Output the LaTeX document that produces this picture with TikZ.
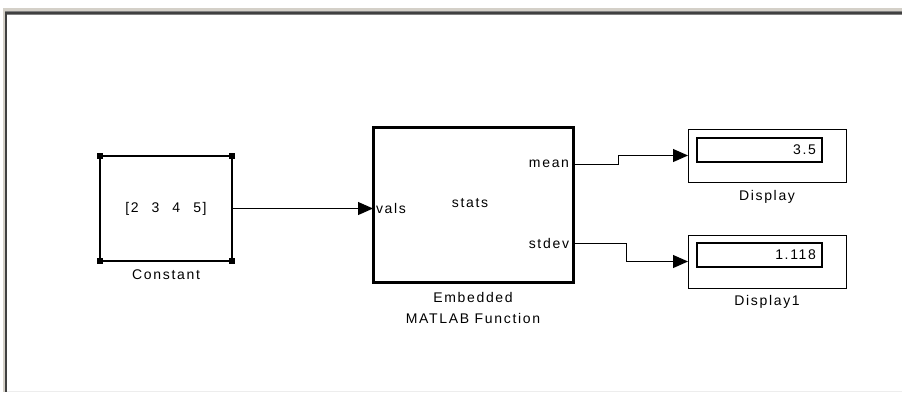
\documentclass[tikz,border=0pt]{standalone}
\usepackage{fontspec}
\setmainfont[LetterSpace=12]{Liberation Sans}
\usetikzlibrary{arrows.meta}
\definecolor{framelight}{HTML}{D4D0C8}
\definecolor{framemid}{HTML}{808080}
\definecolor{framedark}{HTML}{404040}
\definecolor{framebottom}{HTML}{EDEDED}
\begin{document}
\begin{tikzpicture}[x=1pt,y=-1pt,
  font=\fontsize{14}{16}\selectfont,
  every node/.style={inner sep=0pt, outer sep=0pt},
  blockbox/.style={draw, line width=1pt, rectangle},
  conn/.style={line width=1pt, -{Triangle[length=15pt,width=13pt]}},
  lbl/.style={anchor=center}
]
% background and window frame
\fill[white] (0,0) rectangle (902,392);
\useasboundingbox (0,0) rectangle (902,392);
\fill[framelight] (3,8) rectangle (902,11);
\fill[framelight] (3,8) rectangle (5,392);
\fill[framemid] (5,11) rectangle (902,15);
\fill[framedark] (5,12) rectangle (902,14);
\fill[framemid] (5,11) rectangle (7,392);
\fill[framedark] (5,12) rectangle (6.5,392);
\fill[framebottom] (7,390.5) rectangle (902,392);

% Constant block
\node[blockbox, line width=1.3pt, minimum width=132pt, minimum height=105pt] (const) at (166,208.5)
  {[2\hspace{13pt}3\hspace{13pt}4\hspace{13pt}5]};
\foreach \c in {north west, north east, south west, south east}
  \fill (const.\c) ++(-3,-3) rectangle ++(6,6);
\node[lbl] (constlbl) at (166,275) {Constant};

% Embedded MATLAB Function block
\node[blockbox, line width=3pt, minimum width=200pt, minimum height=155pt] (emb) at (473,204.5) {};
\node[lbl] (stats) at (470,203) {stats};
\node[anchor=west] (vals) at (376,208.5) {vals};
\node[anchor=east] (mean) at (569,164) {mean};
\node[anchor=east] (stdev) at (569,243) {stdev};
\node[lbl] (emblbl1) at (473,297) {Embedded};
\node[lbl] (emblbl2) at (473,318) {MATLAB Function};

% Display block
\node[blockbox, minimum width=158pt, minimum height=53pt] (disp) at (767,155.5) {};
\node[draw, line width=1.2pt, minimum width=125pt, minimum height=24pt] (dispin) at (759.5,150) {};
\node[anchor=east] (dispval) at (816,150) {3.5};
\node[lbl] (displbl) at (767,197) {Display};

% Display1 block
\node[blockbox, minimum width=158pt, minimum height=53pt] (disp1) at (767,261.5) {};
\node[draw, line width=1.2pt, minimum width=125pt, minimum height=24pt] (disp1in) at (759.5,255) {};
\node[anchor=east] (disp1val) at (816,255) {1.118};
\node[lbl] (disp1lbl) at (767,302) {Display1};

% connectors
\coordinate (meanout) at (emb.east |- mean);
\coordinate (stdevout) at (emb.east |- stdev);
\coordinate (m1) at (618,164);
\coordinate (s1) at (626,243);
\draw[conn] (const.east) -- (emb.west |- const.east);
\draw[conn] (meanout) -- (m1) -- (m1 |- disp.west) -- (disp.west);
\draw[conn] (stdevout) -- (s1) -- (s1 |- disp1.west) -- (disp1.west);
\end{tikzpicture}
\end{document}
